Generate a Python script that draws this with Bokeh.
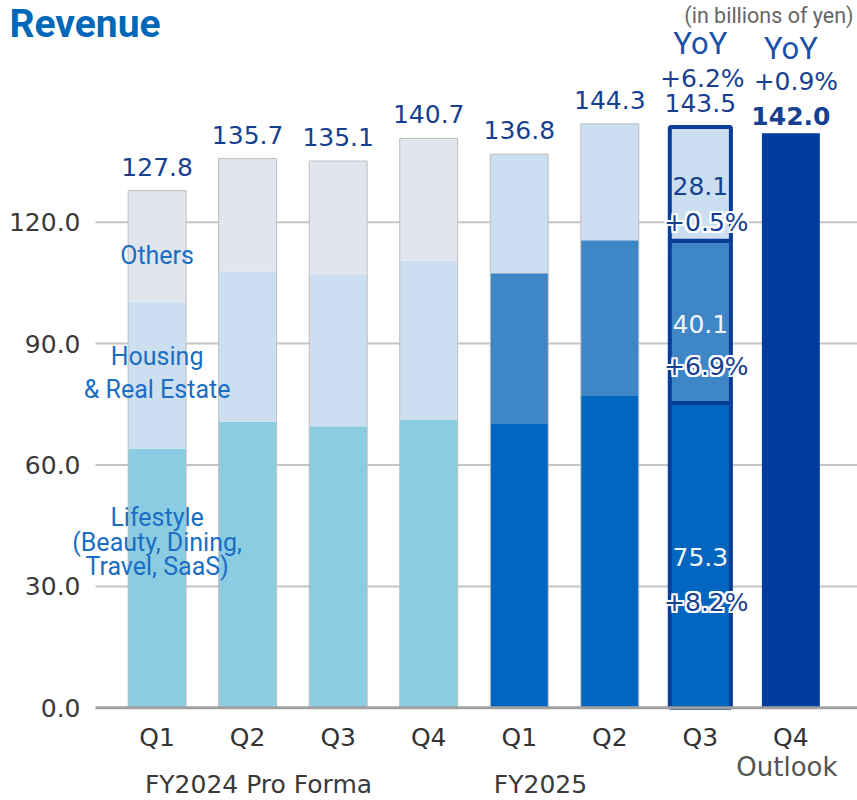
from bokeh.plotting import figure
from bokeh.models import Range1d
from bokeh.core.properties import value
from bokeh.embed import file_html
from bokeh.resources import INLINE

# ---------------- data ----------------
quarters = ["Q1", "Q2", "Q3", "Q4", "Q1", "Q2", "Q3", "Q4"]
fiscal_years = ["FY2024 Pro Forma", "FY2025"]
quarter_fy = [0, 0, 0, 0, 1, 1, 1, 1]
segment_names = ["Lifestyle\n(Beauty, Dining,\nTravel, SaaS)", "Housing\n& Real Estate", "Others"]
lifestyle = [64.0, 70.7, 69.6, 71.2, 70.3, 77.2, 75.3]
housing = [36.2, 37.1, 37.5, 39.3, 37.1, 38.3, 40.1]
others = [27.6, 27.9, 28.0, 30.2, 29.4, 28.8, 28.1]
totals = [127.8, 135.7, 135.1, 140.7, 136.8, 144.3, 143.5]
outlook_total = 142.0
outlook_label = "Outlook"
yoy_latest_segments = ["+8.2%", "+6.9%", "+0.5%"]
yoy_latest_total = "+6.2%"
yoy_outlook = "+0.9%"
yoy_word = "YoY"
y_ticks = [0, 30, 60, 90, 120]
unit_note = "(in billions of yen)"
title_text = "Revenue"

# ---------------- style / layout ----------------
W, H = 857, 800
PX_X = 90.54                 # pixels per category step
PPU = 4.047                  # pixels per billion yen
X0 = -156.6 / PX_X           # data x at left figure edge
X1 = X0 + W / PX_X
Y_ZERO_PX = 707.3            # pixel row of value 0
Y1 = Y_ZERO_PX / PPU
Y0 = -(H - Y_ZERO_PX) / PPU

def sx(px):   # pixel column -> data x
    return X0 + px / PX_X

def sy(py):   # pixel row -> data y
    return (Y_ZERO_PX - py) / PPU

palettes = [
    ["#8BCCE2", "#CCDFF0", "#E1E6EE"],   # FY2024 pro forma
    ["#0066BF", "#3F86C7", "#CCDFF0"],   # FY2025
]
OUTLOOK_COLOR = "#003D9E"
HILITE = "#0A3D98"
NAVY_TXT = "#173F8F"
SEG_TXT = "#1B6EC2"
GRAY_TXT = "#3A3A3A"
BAR_W = 0.64
HI_W = 0.675
DV = value("DejaVu Sans")
RB = value("Roboto")

p = figure(width=W, height=H, x_range=Range1d(X0, X1), y_range=Range1d(Y0, Y1),
           output_backend="svg", toolbar_location=None,
           min_border_left=0, min_border_right=0, min_border_top=0, min_border_bottom=0)
p.axis.visible = False
p.grid.visible = False
p.outline_line_color = None
p.background_fill_color = "white"
p.border_fill_color = "white"

def halo_text(x, y, text, x_offset=0, y_offset=0, r=2, **kw):
    def add(off, d):
        if isinstance(off, (list, tuple)):
            return [o + d for o in off]
        return off + d
    for dx, dy in [(-r, 0), (r, 0), (0, -r), (0, r), (-r, -r), (r, r), (-r, r), (r, -r)]:
        kw2 = dict(kw)
        kw2["text_color"] = "white"
        p.text(x=x, y=y, text=text, x_offset=add(x_offset, dx), y_offset=add(y_offset, dy), **kw2)
    p.text(x=x, y=y, text=text, x_offset=x_offset, y_offset=y_offset, **kw)

n = len(totals)
xs = list(range(len(quarters)))
grid_x0, grid_x1 = sx(95), X1

# gridlines and y tick labels
p.segment(x0=grid_x0, x1=grid_x1, y0=y_ticks[1:], y1=y_ticks[1:],
          line_color="#C4C4C4", line_width=2)
p.text(x=sx(80), y=y_ticks, text=[f"{t:.1f}" for t in y_ticks], text_align="right",
       text_baseline="middle", text_font=DV, text_font_size="25px", text_color=GRAY_TXT)

# stacked bars
hi = n - 1
normal = [i for i in range(n) if i != hi]
seg_vals = [lifestyle, housing, others]
bottom = [0.0] * n
mids = []
for k, vals in enumerate(seg_vals):
    top = [b + v for b, v in zip(bottom, vals)]
    mids.append([(b + t) / 2 for b, t in zip(bottom, top)])
    colors = [palettes[quarter_fy[i]][k] for i in range(n)]
    p.vbar(x=[xs[i] for i in normal], bottom=[bottom[i] for i in normal],
           top=[top[i] for i in normal], width=BAR_W,
           fill_color=[colors[i] for i in normal], line_color=None)
    p.vbar(x=[xs[hi]], bottom=[bottom[hi]], top=[top[hi]], width=HI_W,
           fill_color=colors[hi], line_color=HILITE, line_width=4)
    bottom = top

# thin gray outline of the ordinary bars
p.vbar(x=[xs[i] for i in normal], bottom=0, top=[totals[i] for i in normal], width=BAR_W,
       fill_color=None, line_color="#BDBDBD", line_width=1)

# outlook bar
p.vbar(x=[xs[n]], bottom=0, top=[outlook_total], width=BAR_W,
       fill_color=OUTLOOK_COLOR, line_color=None)

# x axis line
p.segment(x0=[grid_x0], x1=[grid_x1], y0=[0], y1=[0], line_color="#A0A0A0", line_width=3)

# x labels
p.text(x=xs, y=0, text=quarters, text_align="center", text_baseline="middle",
       y_offset=30, text_font=DV, text_font_size="25px", text_color="#333333")
p.text(x=[xs[n]], y=0, text=[outlook_label], text_align="center", text_baseline="middle",
       y_offset=59, x_offset=-4, text_font=DV, text_font_size="26px", text_color="#555555")
fy_x = [sx(258), sx(540)]
p.text(x=fy_x, y=0, text=fiscal_years, text_align="center", text_baseline="middle",
       y_offset=77, text_font=DV, text_font_size="25px", text_color=GRAY_TXT)

# total labels
halo_text(xs[:n], totals, [f"{v:.1f}" for v in totals], y_offset=-24,
          text_align="center", text_baseline="middle", text_font=DV,
          text_font_size="25px", text_color=NAVY_TXT)
halo_text([xs[n]], [outlook_total], [f"{outlook_total:.1f}"], y_offset=-17,
          text_align="center", text_baseline="middle", text_font=DV,
          text_font_size="25px", text_font_style="bold", text_color=NAVY_TXT)

# YoY headers
p.text(x=[xs[hi], xs[n]], y=[totals[hi], outlook_total], text=[yoy_word, yoy_word],
       text_align="center", text_baseline="middle", y_offset=[-84, -85],
       text_font=RB, text_font_size="31px", text_color="#1A50A8")
halo_text([xs[hi], xs[n]], [totals[hi], outlook_total], [yoy_latest_total, yoy_outlook],
          x_offset=[2, 5], y_offset=[-49, -52], text_align="center",
          text_baseline="middle", text_font=DV, text_font_size="25px",
          text_color=NAVY_TXT)

# segment values of latest quarter
seg_latest = [vals[hi] for vals in seg_vals]
seg_mid_latest = [m[hi] for m in mids]
p.text(x=[xs[hi]] * 3, y=seg_mid_latest, text=[f"{v:.1f}" for v in seg_latest],
       text_align="center", text_baseline="middle", y_offset=2,
       text_font=DV, text_font_size="25px",
       text_color=["#F2F6FB", "#F2F6FB", NAVY_TXT])
halo_text([xs[hi]] * 3, seg_mid_latest, yoy_latest_segments, x_offset=6,
          y_offset=[47, 45, 38.5], text_align="center", text_baseline="middle",
          text_font=DV, text_font_size="25px", text_color=NAVY_TXT)

# segment names on first bar
name_offsets = [-36, -2.5, 9]
name_lh = [0.85, 1.13, 1.2]
for k, name in enumerate(segment_names):
    p.text(x=[xs[0]], y=[mids[k][0]], text=[name], text_align="center",
           text_baseline="middle", y_offset=name_offsets[k], text_line_height=name_lh[k],
           text_font=RB, text_font_size="25px", text_color=SEG_TXT)

# title and unit note
p.text(x=[sx(9)], y=[sy(23)], text=[title_text], text_align="left", text_baseline="middle",
       text_font=RB, text_font_size="39px", text_font_style="bold", text_color="#0068B7")
p.text(x=[sx(853)], y=[sy(15)], text=[unit_note], text_align="right", text_baseline="middle",
       text_font=RB, text_font_size="21.5px", text_color="#666666")

open("out.html", "w").write(file_html(p, INLINE))
